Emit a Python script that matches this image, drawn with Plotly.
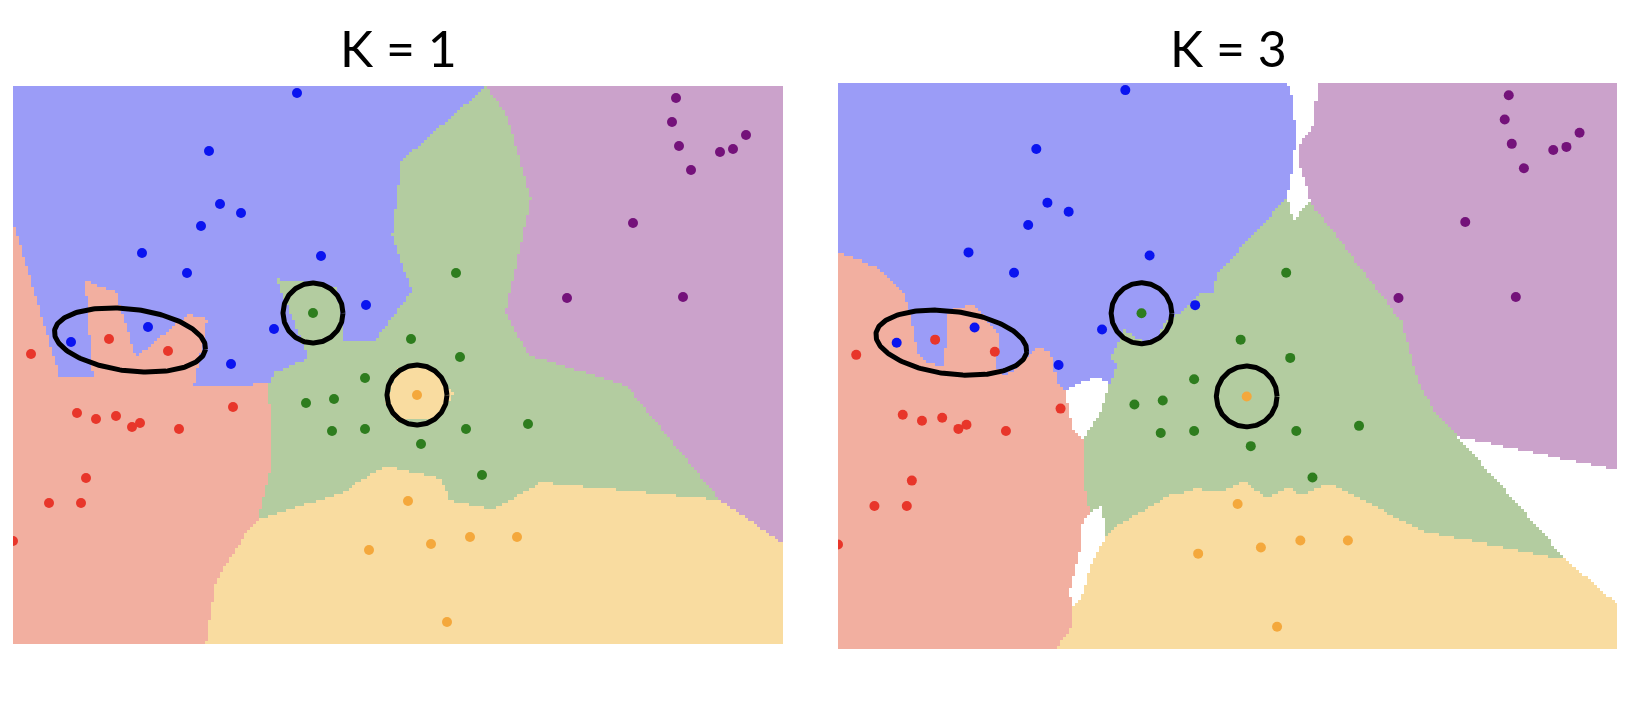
import numpy as np
import plotly.graph_objects as go

# ---------------- data (x: 0..77, y: 0..55.8) ----------------
class_names = ["blue", "red", "green", "orange", "purple"]

blue_x = [28.4, 19.6, 20.7, 22.8, 18.8, 12.9, 17.4, 30.8, 35.3, 26.1, 13.5, 5.8, 21.8]
blue_y = [55.1, 49.3, 44.0, 43.1, 41.8, 39.1, 37.1, 38.8, 33.9, 31.5, 31.7, 30.2, 28.0]

red_x = [9.6, 15.5, 1.8, 6.4, 8.3, 10.3, 11.9, 12.7, 16.6, 22.0, 7.3, 3.6, 6.8, 0.0]
red_y = [30.5, 29.3, 29.0, 23.1, 22.5, 22.8, 21.7, 22.1, 21.5, 23.7, 16.6, 14.1, 14.1, 10.3]

green_x = [30.0, 44.3, 39.8, 44.7, 35.2, 29.3, 32.1, 31.9, 35.2, 40.8, 45.3, 51.5, 46.9]
green_y = [33.1, 37.1, 30.5, 28.7, 26.6, 24.1, 24.5, 21.3, 21.5, 20.0, 21.5, 22.0, 16.9]

orange_x = [40.4, 39.5, 41.8, 45.7, 50.4, 43.4, 35.6]
orange_y = [24.9, 14.3, 10.0, 10.7, 10.7, 2.2, 9.4]

purple_x = [66.3, 65.9, 66.6, 67.8, 70.7, 72.0, 73.3, 62.0, 55.4, 67.0]
purple_y = [54.6, 52.2, 49.8, 47.4, 49.2, 49.5, 50.9, 42.1, 34.6, 34.7]

k_values = [1, 3]
titles = ["K = 1", "K = 3"]

region_colors = ["#9b9cf7", "#f2afa0", "#b3cca0", "#f9dca0", "#cba2cb"]
point_colors = ["#0a14f0", "#e8362a", "#2e7d1e", "#f4a83c", "#74127a"]

X_RANGE = [0, 77]
Y_RANGE = [0, 55.8]
STEP = 0.3

# ellipse annotation (center x, center y, semi-axis a, semi-axis b, angle deg)
ellipses = [(11.7, 30.4, 7.6, 3.1, -7.0), (11.2, 30.2, 7.5, 3.1, -7.0)]
circle_r = 3.0

# ---------------- classifier ----------------
xs = [blue_x, red_x, green_x, orange_x, purple_x]
ys = [blue_y, red_y, green_y, orange_y, purple_y]
P = np.concatenate([np.column_stack([np.array(a), np.array(b)]) for a, b in zip(xs, ys)])
L = np.concatenate([np.full(len(a), i) for i, a in enumerate(xs)])

gx = np.arange(X_RANGE[0] + STEP / 2, X_RANGE[1], STEP)
gy = np.arange(Y_RANGE[0] + STEP / 2, Y_RANGE[1], STEP)
GX, GY = np.meshgrid(gx, gy)
G = np.column_stack([GX.ravel(), GY.ravel()])
D = ((G[:, None, :] - P[None, :, :]) ** 2).sum(-1)
order = np.argsort(D, axis=1)


def knn(k):
    nb = L[order[:, :k]]
    out = np.full(len(G), np.nan)
    for i in range(len(G)):
        cnt = np.bincount(nb[i], minlength=5)
        m = cnt.max()
        if k == 1 or m * 2 > k:
            out[i] = cnt.argmax()
    return out.reshape(GX.shape)


n = len(region_colors)
cs = []
for i, c in enumerate(region_colors):
    cs.append([i / n, c])
    cs.append([(i + 1) / n, c])

fig = go.Figure()
for p, k in enumerate(k_values):
    xa = "x" if p == 0 else "x2"
    ya = "y" if p == 0 else "y2"
    Z = knn(k)
    fig.add_trace(go.Heatmap(x=gx, y=gy, z=Z, colorscale=cs, zmin=-0.5, zmax=n - 0.5,
                             showscale=False, hoverinfo="skip", xaxis=xa, yaxis=ya))
    # ellipse
    cx, cy, a, b, ang = ellipses[p]
    t = np.linspace(0, 2 * np.pi, 240)
    th = np.deg2rad(ang)
    ex = cx + a * np.cos(t) * np.cos(th) - b * np.sin(t) * np.sin(th)
    ey = cy + a * np.cos(t) * np.sin(th) + b * np.sin(t) * np.cos(th)
    fig.add_trace(go.Scatter(x=ex, y=ey, mode="lines", line=dict(color="black", width=5),
                             showlegend=False, hoverinfo="skip", xaxis=xa, yaxis=ya))
    # circles around highlighted green and orange points
    for ccx, ccy in [(green_x[0], green_y[0]), (orange_x[0], orange_y[0])]:
        fig.add_trace(go.Scatter(x=ccx + circle_r * np.cos(t), y=ccy + circle_r * np.sin(t),
                                 mode="lines", line=dict(color="black", width=5),
                                 showlegend=False, hoverinfo="skip", xaxis=xa, yaxis=ya))
    for i in range(n):
        fig.add_trace(go.Scatter(x=xs[i], y=ys[i], mode="markers",
                                 marker=dict(color=point_colors[i], size=10, line=dict(width=0)),
                                 name=class_names[i], showlegend=False, xaxis=xa, yaxis=ya))

W, H = 1640, 720
ax = dict(visible=False, showgrid=False, zeroline=False)
fig.update_layout(
    width=W, height=H, margin=dict(l=0, r=0, t=0, b=0),
    paper_bgcolor="white", plot_bgcolor="white",
    xaxis=dict(domain=[13 / W, 783 / W], range=X_RANGE, **ax),
    yaxis=dict(domain=[1 - 644 / H, 1 - 86 / H], range=Y_RANGE, **ax),
    xaxis2=dict(domain=[838 / W, 1617 / W], range=X_RANGE, **ax),
    yaxis2=dict(domain=[1 - 649 / H, 1 - 83 / H], range=Y_RANGE, **ax),
    annotations=[
        dict(text=titles[0], x=398 / W, y=1 - 48 / H, xref="paper", yref="paper",
             showarrow=False, xanchor="center", yanchor="middle",
             font=dict(family="Lato", size=50, color="black")),
        dict(text=titles[1], x=1228 / W, y=1 - 48 / H, xref="paper", yref="paper",
             showarrow=False, xanchor="center", yanchor="middle",
             font=dict(family="Lato", size=50, color="black")),
    ],
)

fig.write_html("out.html", config={"displayModeBar": False},
               post_script="document.body.style.margin='0';")
